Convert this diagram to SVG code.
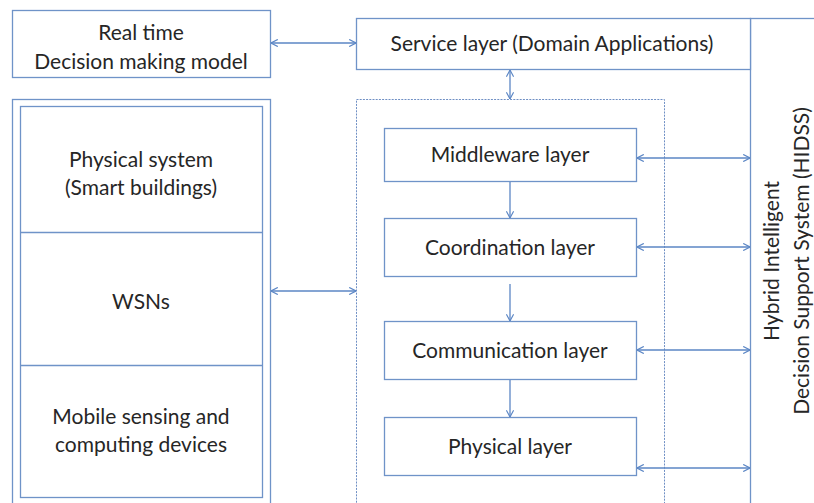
<svg xmlns="http://www.w3.org/2000/svg" width="814" height="503" viewBox="0 0 814 503">
<defs>
<marker id="ah" viewBox="0 0 10 10" refX="9.5" refY="5" markerWidth="8" markerHeight="8" markerUnits="userSpaceOnUse" orient="auto-start-reverse">
<path d="M1,0.5 L9.5,5 L1,9.5" fill="none" stroke="#5b86c5" stroke-width="1.4"/>
</marker>
<style>
.box{fill:#fff;stroke:#6f93c8;stroke-width:1.3}
.dash{fill:none;stroke:#6f8fc4;stroke-width:1;stroke-dasharray:2 1.2}
.t{font-family:Lato,"Liberation Sans",sans-serif;font-size:21px;fill:#262626;text-anchor:middle}
.c{fill:none;stroke:#5b86c5;stroke-width:1.3}
</style>
</defs>
<g id="hidss">
<rect class="box" x="750.5" y="18.5" width="100" height="500"/>
<text class="t" transform="translate(779,261) rotate(-90)">Hybrid Intelligent</text>
<text class="t" transform="translate(809,261) rotate(-90)">Decision Support System (HIDSS)</text>
</g>
<g id="realtime">
<rect class="box" x="12.5" y="10.5" width="258" height="67"/>
<text class="t" x="141" y="40">Real time</text>
<text class="t" x="141" y="69">Decision making model</text>
</g>
<g id="service">
<rect class="box" x="356.5" y="18.5" width="394" height="51"/>
<text class="t" x="552" y="51">Service layer (Domain Applications)</text>
</g>
<g id="system">
<rect class="box" x="12.5" y="99.5" width="258" height="420"/>
<rect class="box" x="20.5" y="106.5" width="242" height="391"/>
<line class="box" x1="20.5" y1="232.5" x2="262.5" y2="232.5"/>
<line class="box" x1="20.5" y1="365.5" x2="262.5" y2="365.5"/>
<text class="t" x="141" y="167">Physical system</text>
<text class="t" x="141" y="195">(Smart buildings)</text>
<text class="t" x="141" y="309">WSNs</text>
<text class="t" x="141" y="424">Mobile sensing and</text>
<text class="t" x="141" y="452">computing devices</text>
</g>
<g id="stack">
<rect class="dash" x="356.5" y="99.5" width="308" height="420"/>
</g>
<g id="middleware">
<rect class="box" x="384.5" y="128.5" width="252" height="53"/>
<text class="t" x="510" y="162">Middleware layer</text>
</g>
<g id="coordination">
<rect class="box" x="384.5" y="218.5" width="252" height="58"/>
<text class="t" x="510" y="255">Coordination layer</text>
</g>
<g id="communication">
<rect class="box" x="384.5" y="321.5" width="252" height="58"/>
<text class="t" x="510" y="358">Communication layer</text>
</g>
<g id="physical">
<rect class="box" x="384.5" y="417.5" width="252" height="58"/>
<text class="t" x="510" y="454">Physical layer</text>
</g>
<g id="connectors">
<line class="c" x1="271" y1="43" x2="356" y2="43" marker-start="url(#ah)" marker-end="url(#ah)"/>
<line class="c" x1="510" y1="70" x2="510" y2="99" marker-start="url(#ah)" marker-end="url(#ah)"/>
<line class="c" x1="271" y1="291" x2="356" y2="291" marker-start="url(#ah)" marker-end="url(#ah)"/>
<line class="c" x1="510" y1="182" x2="510" y2="218" marker-end="url(#ah)"/>
<line class="c" x1="510" y1="284" x2="510" y2="321" marker-end="url(#ah)"/>
<line class="c" x1="510" y1="380" x2="510" y2="417" marker-end="url(#ah)"/>
<line class="c" x1="637" y1="158" x2="750" y2="158" marker-start="url(#ah)" marker-end="url(#ah)"/>
<line class="c" x1="637" y1="247" x2="750" y2="247" marker-start="url(#ah)" marker-end="url(#ah)"/>
<line class="c" x1="637" y1="350" x2="750" y2="350" marker-start="url(#ah)" marker-end="url(#ah)"/>
<line class="c" x1="637" y1="468" x2="750" y2="468" marker-start="url(#ah)" marker-end="url(#ah)"/>
</g>
</svg>
